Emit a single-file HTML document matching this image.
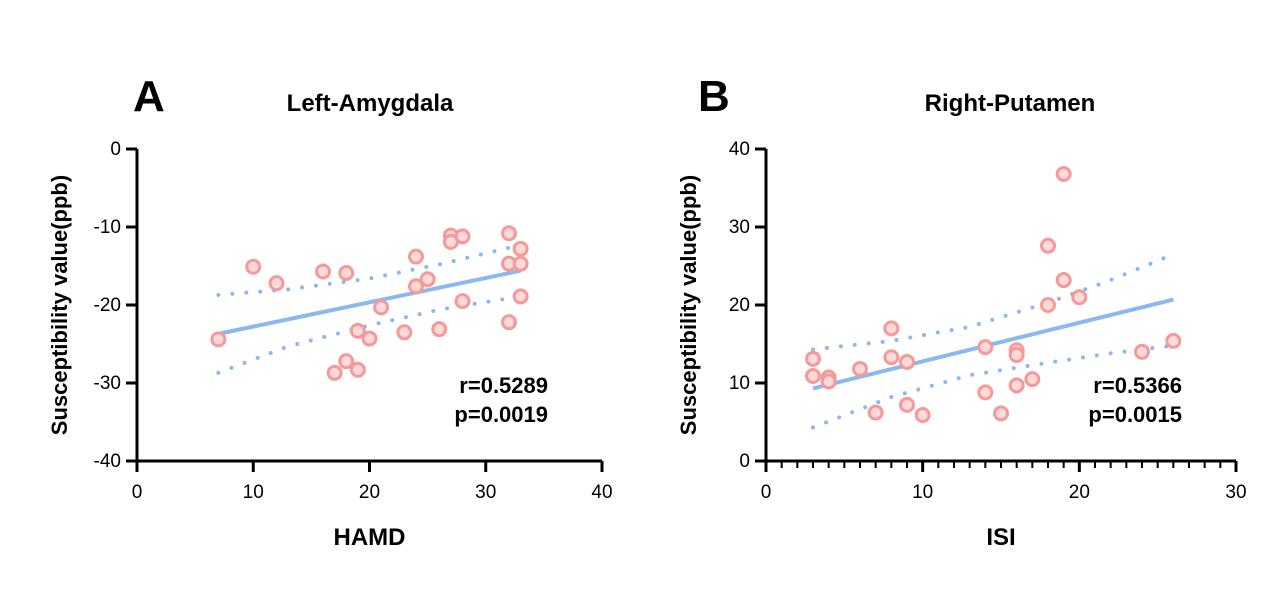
<!DOCTYPE html>
<html><head><meta charset="utf-8"><style>
body{margin:0;background:#fff;width:1271px;height:601px;overflow:hidden}
svg{font-family:"Liberation Sans",Arial,sans-serif}
</style></head><body>
<svg id="c" width="1271" height="601"></svg>
<script>
const ptsAx=[7,10,12,16,18,18,17,19,19,20,21,23,24,24,25,26,27,27,28,28,32,32,32,33,33,33];
const ptsAy=[-24.4,-15.1,-17.2,-15.7,-15.9,-27.2,-28.7,-23.3,-28.3,-24.3,-20.3,-23.5,-13.8,-17.6,-16.7,-23.1,-11.1,-11.9,-11.2,-19.5,-10.8,-14.7,-22.2,-12.8,-14.7,-18.9];
const fitAx=[7,33], fitAy=[-23.7,-15.6];
const ciAx=[7,13,20,26,33];
const ciAup=[-18.7,-18.0,-16.6,-14.8,-12.3];
const ciAlo=[-28.7,-25.3,-22.6,-20.6,-18.9];
const ptsBx=[3,3,4,4,6,7,8,8,9,9,10,14,14,15,16,16,16,17,18,18,19,19,20,24,26];
const ptsBy=[13.1,10.9,10.7,10.2,11.8,6.2,17.0,13.3,12.7,7.2,5.9,14.6,8.8,6.1,14.2,13.6,9.7,10.5,27.6,20.0,36.8,23.2,21.0,14.0,15.4];
const fitBx=[3,26], fitBy=[9.3,20.7];
const ciBx=[3,8,13,18,22,26];
const ciBup=[14.3,15.4,17.2,20.3,23.2,26.5];
const ciBlo=[4.3,8.2,11.0,12.6,13.8,14.8];
const ticksAx=[0,10,20,30,40], ticksAy=[0,-10,-20,-30,-40];
const ticksBx=[0,10,20,30], ticksBy=[0,10,20,30,40];

const NS="http://www.w3.org/2000/svg", svg=document.getElementById('c');
function el(t,a,txt){const e=document.createElementNS(NS,t);for(const k in a)e.setAttribute(k,a[k]);if(txt!==undefined)e.textContent=txt;svg.appendChild(e);return e;}

function panel(o){
  const sx=v=>o.x0+(v-o.xmin)/(o.xmax-o.xmin)*(o.x1-o.x0);
  const sy=v=>o.y1-(v-o.ymin)/(o.ymax-o.ymin)*(o.y1-o.y0);
  let e;
  e=el('line',{x1:o.x0,y1:o.y0,x2:o.x0,y2:o.y1+1,stroke:'#000','stroke-width':3});
  
  e=el('line',{x1:o.x0-1,y1:o.y1,x2:o.x1,y2:o.y1,stroke:'#000','stroke-width':3});
  
  o.tx.forEach(v=>{
    e=el('line',{x1:sx(v),y1:o.y1,x2:sx(v),y2:o.y1+11,stroke:'#000','stroke-width':3});
    
    e=el('text',{x:sx(v),y:o.y1+37,'font-size':19,'text-anchor':'middle'},v);
    
  });
  if(o.minor){for(let v=o.xmin;v<=o.xmax;v++){if(o.tx.includes(v))continue;
    e=el('line',{x1:sx(v),y1:o.y1,x2:sx(v),y2:o.y1+7,stroke:'#000','stroke-width':2});
    }}
  o.ty.forEach(v=>{
    e=el('line',{x1:o.x0-11,y1:sy(v),x2:o.x0,y2:sy(v),stroke:'#000','stroke-width':3});
    
    e=el('text',{x:o.x0-16,y:sy(v)+6,'font-size':19,'text-anchor':'end'},v);
    
  });
  const line=(xs,ys)=>'M'+xs.map((x,i)=>sx(x)+','+sy(ys[i])).join('L');
  e=el('path',{d:line(o.cx,o.cu),fill:'none',stroke:'#8ab8f0','stroke-width':4,'stroke-linecap':'round','stroke-dasharray':'0 14'});
  
  e=el('path',{d:line(o.cx,o.cl),fill:'none',stroke:'#8ab8f0','stroke-width':4,'stroke-linecap':'round','stroke-dasharray':'0 14'});
  
  e=el('path',{d:line(o.fx,o.fy),fill:'none',stroke:'#8ab8f0','stroke-width':4});
  
  o.px.forEach((x,i)=>{
    e=el('circle',{cx:sx(x),cy:sy(o.py[i]),r:6.5,fill:'#fdd9d9',stroke:'#f49a9a','stroke-width':3});
    
  });
  e=el('text',{x:o.x0+o.ttx,y:111,'font-size':24,'font-weight':'bold','text-anchor':'middle'},o.title);
  
  e=el('text',{x:o.lx,y:111,'font-size':44,'font-weight':'bold'},o.letter);
  
  e=el('text',{x:(o.x0+o.x1)/2,y:545,'font-size':24,'font-weight':'bold','text-anchor':'middle'},o.xlabel);
  
  e=el('text',{x:0,y:0,'font-size':22,'font-weight':'bold','text-anchor':'middle',transform:`translate(${o.x0-70},${(o.y0+o.y1)/2}) rotate(-90)`},'Susceptibility value(ppb)');
  
  e=el('text',{x:o.x1-54,y:393,'font-size':22,'font-weight':'bold','text-anchor':'end'},o.r);
  
  e=el('text',{x:o.x1-54,y:422,'font-size':22,'font-weight':'bold','text-anchor':'end'},o.p);
  
}
panel({id:'panel-a',x0:137,x1:602,y0:149,y1:461,xmin:0,xmax:40,ymin:-40,ymax:0,tx:ticksAx,ty:ticksAy,
  px:ptsAx,py:ptsAy,fx:fitAx,fy:fitAy,cx:ciAx,cu:ciAup,cl:ciAlo,title:'Left-Amygdala',ttx:233,letter:'A',lx:133,
  xlabel:'HAMD',r:'r=0.5289',p:'p=0.0019'});
panel({id:'panel-b',x0:766,x1:1236,y0:149,y1:461,xmin:0,xmax:30,ymin:0,ymax:40,tx:ticksBx,ty:ticksBy,minor:true,
  px:ptsBx,py:ptsBy,fx:fitBx,fy:fitBy,cx:ciBx,cu:ciBup,cl:ciBlo,title:'Right-Putamen',ttx:244,letter:'B',lx:698,
  xlabel:'ISI',r:'r=0.5366',p:'p=0.0015'});
</script>
</body></html>
